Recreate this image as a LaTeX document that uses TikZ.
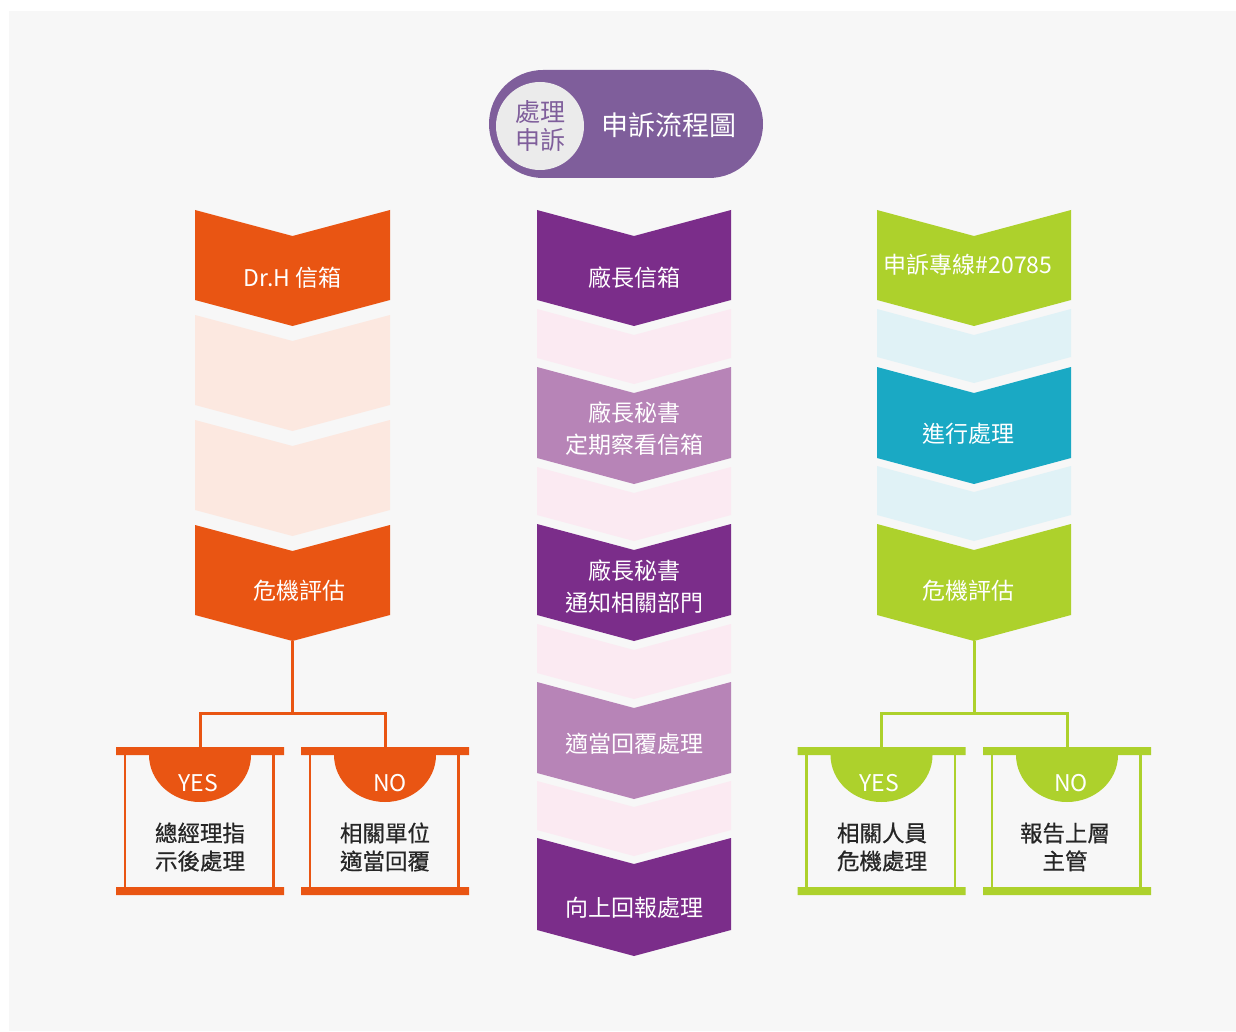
\documentclass[tikz,border=0pt]{standalone}
\usepackage{fontspec}
\setmainfont{Noto Sans CJK TC}
\newfontfamily\boxfont{Noto Sans CJK TC}[FakeBold=0.6]

\definecolor{paper}{HTML}{F7F7F7}
\definecolor{drhorange}{HTML}{E95513}
\definecolor{palorange}{HTML}{FCE8E0}
\definecolor{plantpurple}{HTML}{7B2D8A}
\definecolor{softpurple}{HTML}{B784B7}
\definecolor{palpink}{HTML}{FBEAF2}
\definecolor{hotgreen}{HTML}{ADD12C}
\definecolor{workcyan}{HTML}{1AA9C4}
\definecolor{palcyan}{HTML}{E0F2F6}
\definecolor{titlepurple}{HTML}{7F5E9B}

\tikzset{
  steplabel/.style={text=white, align=center, font=\fontsize{23}{32}\selectfont},
  answer/.style={text=white, font=\fontsize{23}{26}\selectfont},
  boxtext/.style={text=black!85, align=center, font=\boxfont\fontsize{22.5}{28}\selectfont},
  tree/.style={line width=3},
}

\begin{document}
\begin{tikzpicture}[x=1pt,y=-1pt]
\useasboundingbox (0,0) rectangle (1236,1032);
\fill[paper] (9,11) rectangle (1236,1031);

% title
\node (title) [fill=titlepurple, rounded corners=54, minimum width=274,
    minimum height=108, inner sep=0] at (626,124) {};
\node (badge) [circle, fill=paper!95!black, minimum size=88, inner sep=0,
    text=titlepurple, align=center, font=\fontsize{25}{28}\selectfont]
    at (540,126) {處理\\申訴};
\node (titletext) [text=white, font=\fontsize{27}{30}\selectfont]
    at (669,125) {申訴流程圖};

% left column
\foreach \top/\tone in {210/drhorange, 315/palorange, 420/palorange, 525/drhorange}
  \fill[\tone] (195,\top) -- ++(97.5,26) -- ++(97.5,-26) -- ++(0,90)
      -- ++(-97.5,26) -- ++(-97.5,-26) -- cycle;
\node (drh) [steplabel] at (292.5,278) {Dr.H 信箱};
\node (lcrisis) [steplabel] at (299,591) {危機評估};
\coordinate (ltip) at (292.5,641);

% middle column
\foreach \top/\high/\tone in {210/90/plantpurple, 309/49/palpink, 367/91/softpurple,
    467/48/palpink, 524/91/plantpurple, 624/49/palpink, 682/91/softpurple,
    781/49/palpink, 838/92/plantpurple}
  \fill[\tone] (537,\top) -- ++(97,26) -- ++(97,-26) -- ++(0,\high)
      -- ++(-97,26) -- ++(-97,-26) -- cycle;
\node (chief) [steplabel] at (634,278) {廠長信箱};
\node (check) [steplabel] at (634,429) {廠長秘書\\定期察看信箱};
\node (notify) [steplabel] at (634,587) {廠長秘書\\通知相關部門};
\node (reply) [steplabel] at (634,744) {適當回覆處理};
\node (report) [steplabel] at (634,908) {向上回報處理};

% right column
\foreach \top/\high/\tone in {210/90/hotgreen, 309/48/palcyan, 367/91/workcyan,
    466/49/palcyan, 524/91/hotgreen}
  \fill[\tone] (877,\top) -- ++(97,26) -- ++(97,-26) -- ++(0,\high)
      -- ++(-97,26) -- ++(-97,-26) -- cycle;
\node (hotline) [steplabel] at (968,265) {申訴專線\#20785};
\node (handle) [steplabel] at (968,434) {進行處理};
\node (rcrisis) [steplabel] at (968,591) {危機評估};
\coordinate (rtip) at (974,641);

% answer boxes
\foreach \cx/\tone/\nm in {200/drhorange/lyes, 385/drhorange/lno,
    881.5/hotgreen/ryes, 1067/hotgreen/rno} {
  \fill[\tone] (\cx-84,747) rectangle ++(168,8) (\cx-84,887) rectangle ++(168,8)
      (\cx-51,755) arc[start angle=180, end angle=0, x radius=51, y radius=47];
  \draw[\tone, line width=2.5] (\cx-75,755) -- ++(0,132) (\cx+73.5,755) -- ++(0,132);
  \coordinate (\nm) at (\cx,747);
}
\node (lyeslab) [answer] at (198,783) {YES};
\node (lnolab) [answer] at (390,783) {NO};
\node (ryeslab) [answer] at (879,783) {YES};
\node (rnolab) [answer] at (1071,783) {NO};
\node (lyestext) [boxtext] at (200,847) {總經理指\\示後處理};
\node (lnotext) [boxtext] at (385,847) {相關單位\\適當回覆};
\node (ryestext) [boxtext] at (882,847) {相關人員\\危機處理};
\node (rnotext) [boxtext] at (1065,847) {報告上層\\主管};

% connectors
\draw[tree, drhorange] (ltip) -- ++(0,72) -| (lyes) (ltip) -- ++(0,72) -| (lno);
\draw[tree, hotgreen] (rtip) -- ++(0,72) -| (ryes) (rtip) -- ++(0,72) -| (rno);
\end{tikzpicture}
\end{document}
